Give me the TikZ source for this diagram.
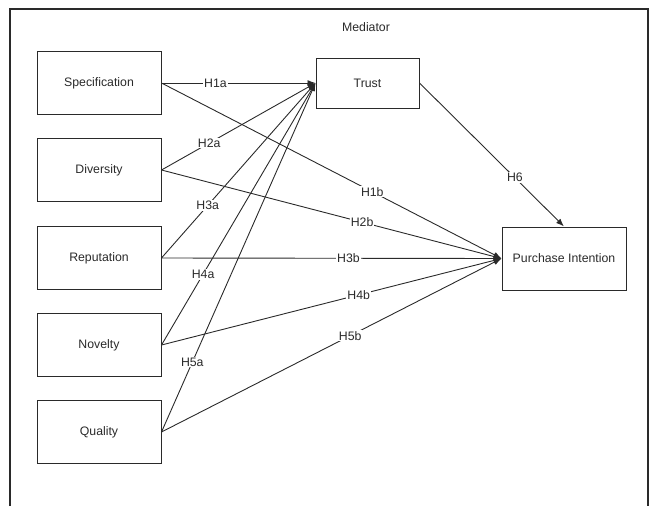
\documentclass[tikz,border=0pt]{standalone}
\usepackage{fontspec}
\setmainfont{Liberation Sans}
\usetikzlibrary{arrows.meta}
\definecolor{ln}{HTML}{2A2A2A}
\begin{document}
\begin{tikzpicture}[x=1pt,y=-1pt,
  font=\fontsize{12.3}{14}\selectfont,
  box/.style={draw=ln,line width=1pt,minimum width=124pt,minimum height=63pt,inner sep=0pt,text=ln},
  conn/.style={draw=ln,line width=0.9pt,-{Latex[length=8pt,width=6pt]}},
  lbl/.style={fill=white,inner sep=1pt,text=ln}]
\useasboundingbox (0,0) rectangle (650,506);
\draw[ln,line width=1.6pt] (10,506) -- (10,9) -- (648,9) -- (648,506);
\node[text=ln] (med) at (366,27) {Mediator};
\node[box] (spec) at (99,83) {Specification};
\node[box] (div) at (99,170) {Diversity};
\node[box] (rep) at (99,258) {Reputation};
\node[box] (nov) at (99,345) {Novelty};
\node[box] (qual) at (99,432) {Quality};
\node[box,minimum width=103pt,minimum height=50pt] (trust) at (367.5,83) {Trust};
\node[box] (pi) at (564,258.5) {Purchase Intention};
\draw[conn] (spec.east) -- node[lbl,pos=0.35]{H1a} (trust.west);
\draw[conn] (div.east) -- node[lbl,pos=0.31]{H2a} (trust.west);
\draw[conn] (rep.east) -- node[lbl,pos=0.30]{H3a} (trust.west);
\draw[conn] (nov.east) -- node[lbl,pos=0.27]{H4a} (trust.west);
\draw[conn] (qual.east) -- node[lbl,pos=0.20]{H5a} (trust.west);
\draw[conn] (spec.east) -- node[lbl,pos=0.62]{H1b} (pi.west);
\draw[conn] (div.east) -- node[lbl,pos=0.59]{H2b} (pi.west);
\draw[conn] (rep.east) -- node[lbl,pos=0.55]{H3b} (pi.west);
\draw[conn] (nov.east) -- node[lbl,pos=0.58]{H4b} (pi.west);
\draw[conn] (qual.east) -- node[lbl,pos=0.555]{H5b} (pi.west);
\draw[conn] (trust.east) -- node[lbl,pos=0.66]{H6} (pi.north);
\end{tikzpicture}
\end{document}
